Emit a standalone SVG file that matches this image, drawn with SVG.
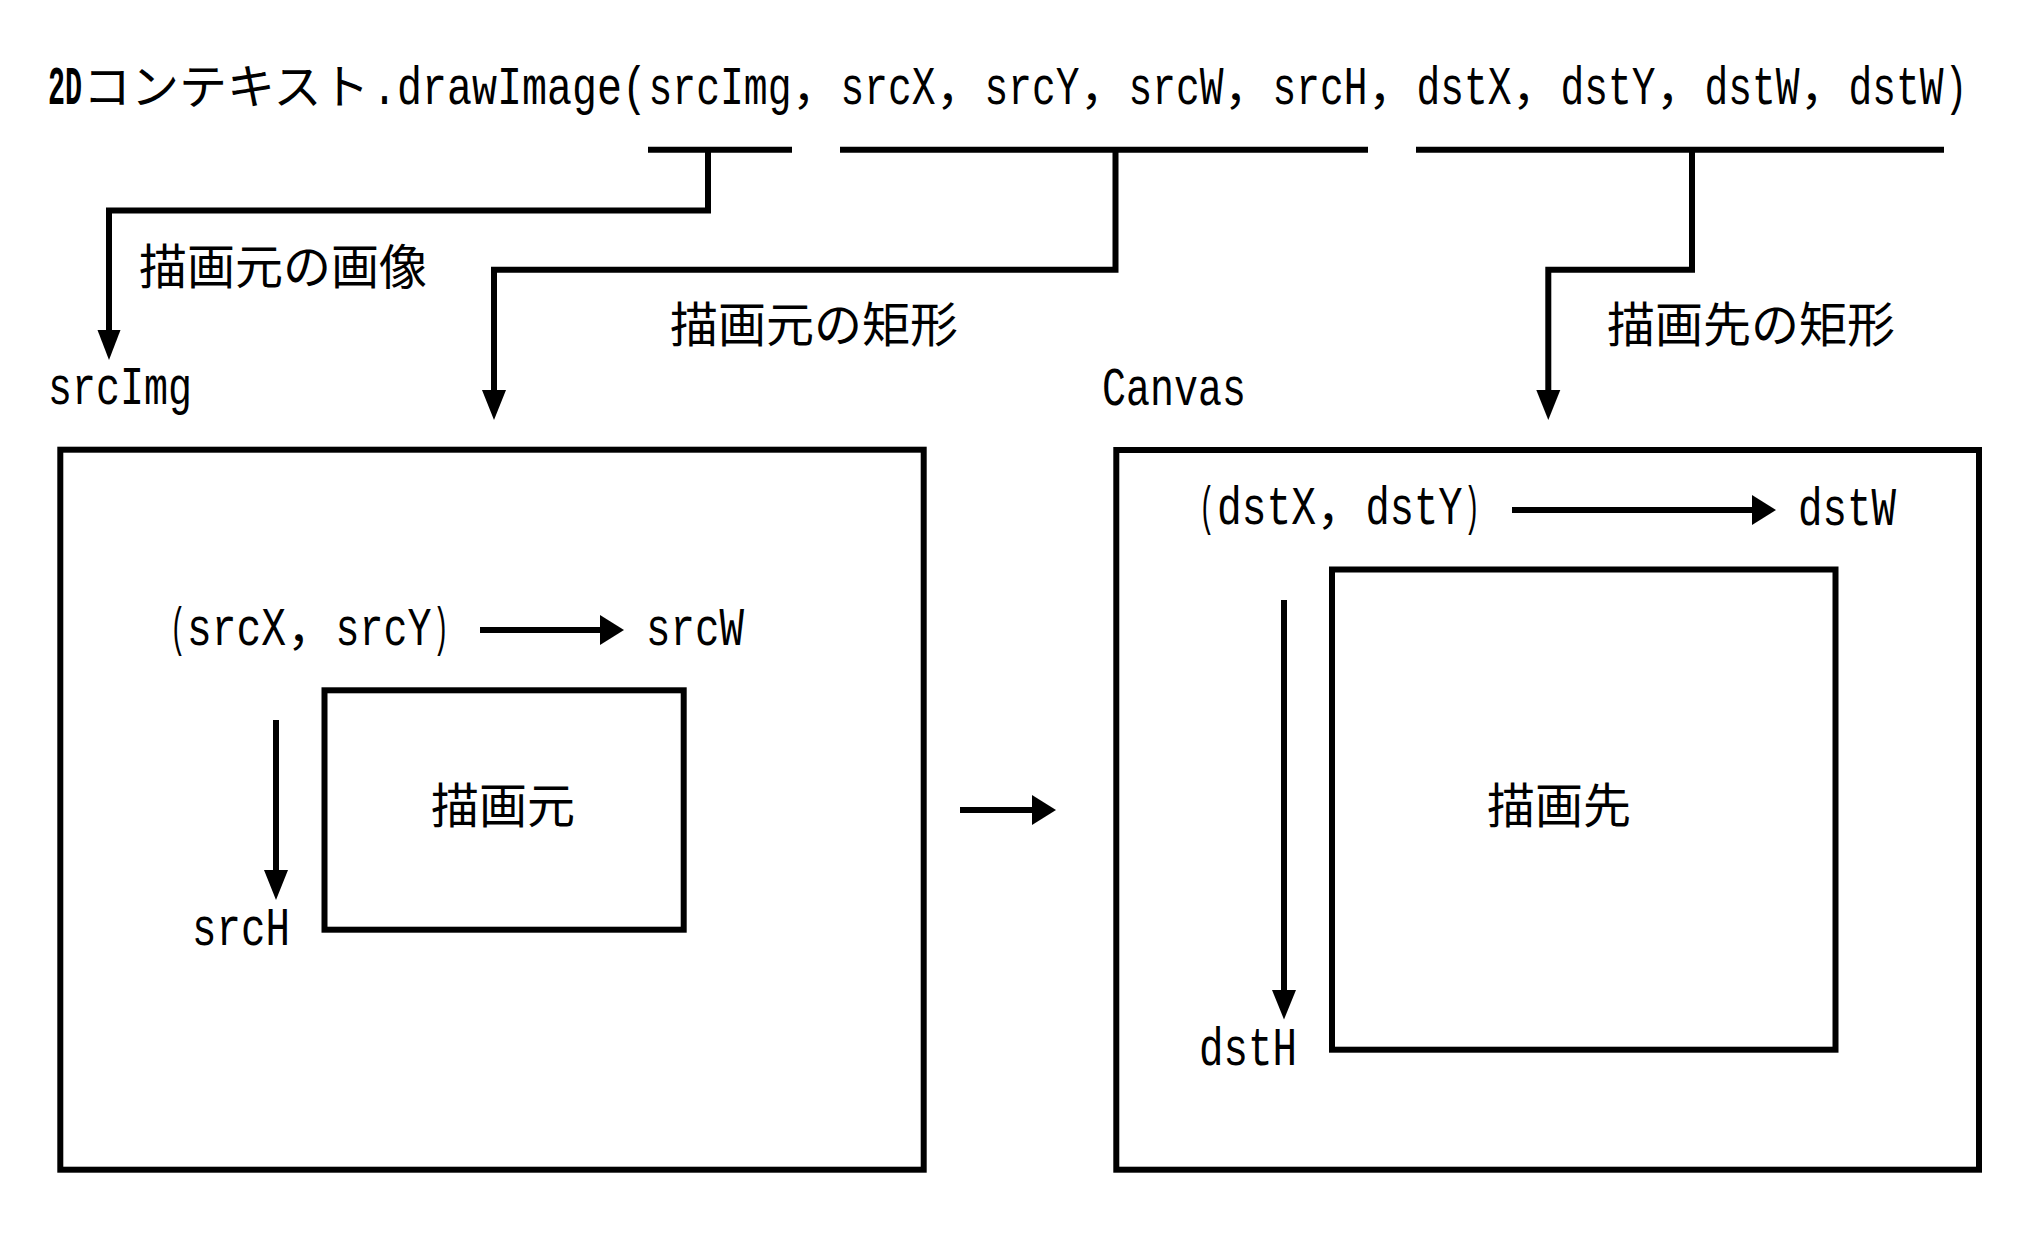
<svg xmlns="http://www.w3.org/2000/svg" width="2040" height="1260" viewBox="0 0 2040 1260">
<style>
.jp { font-family: "Noto Sans CJK JP", "Noto Sans CJK SC", sans-serif; font-size: 48px; fill: #000; }
.lat { font-family: "Liberation Mono", "DejaVu Sans Mono", monospace; font-size: 54px; }
.bd { font-weight: bold; }
.ln { fill: none; stroke: #000; stroke-width: 6; stroke-linejoin: miter; stroke-linecap: butt; }
.hd { fill: #000; stroke: none; }
</style>
<rect x="0" y="0" width="2040" height="1260" fill="#fff"/>

<g id="title">
<text class="jp" y="104"><tspan class="lat bd" x="48" textLength="34" lengthAdjust="spacingAndGlyphs">2D</tspan><tspan x="83">コンテキスト</tspan><tspan class="lat" x="372" textLength="275" lengthAdjust="spacingAndGlyphs">.drawImage(</tspan><tspan class="lat" x="648.5" textLength="143" lengthAdjust="spacingAndGlyphs">srcImg</tspan><tspan x="792">，</tspan><tspan class="lat" x="840.5" textLength="95" lengthAdjust="spacingAndGlyphs">srcX</tspan><tspan x="936">，</tspan><tspan class="lat" x="984.5" textLength="95" lengthAdjust="spacingAndGlyphs">srcY</tspan><tspan x="1080">，</tspan><tspan class="lat" x="1128.5" textLength="95" lengthAdjust="spacingAndGlyphs">srcW</tspan><tspan x="1224">，</tspan><tspan class="lat" x="1272.5" textLength="95" lengthAdjust="spacingAndGlyphs">srcH</tspan><tspan x="1368">，</tspan><tspan class="lat" x="1416.5" textLength="95" lengthAdjust="spacingAndGlyphs">dstX</tspan><tspan x="1512">，</tspan><tspan class="lat" x="1560.5" textLength="95" lengthAdjust="spacingAndGlyphs">dstY</tspan><tspan x="1656">，</tspan><tspan class="lat" x="1704.5" textLength="95" lengthAdjust="spacingAndGlyphs">dstW</tspan><tspan x="1800">，</tspan><tspan class="lat" x="1848.5" textLength="95" lengthAdjust="spacingAndGlyphs">dstW</tspan><tspan class="lat" x="1944.5" textLength="23" lengthAdjust="spacingAndGlyphs">)</tspan></text>
</g>

<g id="connectors">
<line class="ln" x1="648" y1="149.7" x2="792" y2="149.7"/>
<line class="ln" x1="840" y1="149.7" x2="1368" y2="149.7"/>
<line class="ln" x1="1416" y1="149.7" x2="1944" y2="149.7"/>
<polyline class="ln" points="708,149.7 708,210.5 109,210.5 109,331"/>
<polygon class="hd" points="97.5,330 120.5,330 109,360"/>
<polyline class="ln" points="1115.5,149.7 1115.5,269.7 494,269.7 494,391"/>
<polygon class="hd" points="482,390 506,390 494,420"/>
<polyline class="ln" points="1692,149.7 1692,269.7 1548.3,269.7 1548.3,391"/>
<polygon class="hd" points="1536.3,390 1560.3,390 1548.3,420"/>
<line class="ln" x1="480" y1="630" x2="601" y2="630"/>
<polygon class="hd" points="600,615 600,645 624,630"/>
<line class="ln" x1="960" y1="810" x2="1033" y2="810"/>
<polygon class="hd" points="1032,795 1032,825 1056,810"/>
<line class="ln" x1="1512" y1="510" x2="1753" y2="510"/>
<polygon class="hd" points="1752,495 1752,525 1776,510"/>
<line class="ln" x1="276" y1="720" x2="276" y2="871"/>
<polygon class="hd" points="264,870 288,870 276,900"/>
<line class="ln" x1="1284" y1="600" x2="1284" y2="991"/>
<polygon class="hd" points="1272,990 1296,990 1284,1019.5"/>
</g>

<g id="label-srcimg-desc"><text class="jp" x="139" y="283.5">描画元の画像</text></g>
<g id="label-src-rect"><text class="jp" x="670" y="341.5">描画元の矩形</text></g>
<g id="label-dst-rect"><text class="jp" x="1607" y="341.5">描画先の矩形</text></g>
<g id="label-srcimg"><text class="jp lat" x="48" y="404" textLength="144" lengthAdjust="spacingAndGlyphs">srcImg</text></g>
<g id="label-canvas"><text class="jp lat" x="1102" y="405" textLength="144" lengthAdjust="spacingAndGlyphs">Canvas</text></g>

<g id="src-image">
<rect class="ln" x="60.3" y="449.7" width="863.4" height="720"/>
<text class="jp" y="645"><tspan class="lat" x="170" textLength="16" lengthAdjust="spacingAndGlyphs">(</tspan><tspan class="lat" x="187" textLength="99" lengthAdjust="spacingAndGlyphs">srcX</tspan><tspan x="287">，</tspan><tspan class="lat" x="335.5" textLength="96" lengthAdjust="spacingAndGlyphs">srcY</tspan><tspan class="lat" x="433" textLength="16" lengthAdjust="spacingAndGlyphs">)</tspan></text>
<text class="jp lat" x="646" y="645" textLength="98" lengthAdjust="spacingAndGlyphs">srcW</text>
<text class="jp lat" x="192" y="945" textLength="98" lengthAdjust="spacingAndGlyphs">srcH</text>
</g>
<g id="src-rect">
<rect class="ln" x="324.5" y="690.3" width="359.2" height="239.4"/>
<text class="jp" x="431" y="823.3">描画元</text>
</g>

<g id="canvas">
<rect class="ln" x="1116.3" y="450" width="862.7" height="719.7"/>
<text class="jp" y="524"><tspan class="lat" x="1199" textLength="16" lengthAdjust="spacingAndGlyphs">(</tspan><tspan class="lat" x="1217" textLength="99" lengthAdjust="spacingAndGlyphs">dstX</tspan><tspan x="1316.5">，</tspan><tspan class="lat" x="1365.5" textLength="97" lengthAdjust="spacingAndGlyphs">dstY</tspan><tspan class="lat" x="1464" textLength="16" lengthAdjust="spacingAndGlyphs">)</tspan></text>
<text class="jp lat" x="1798" y="525" textLength="98" lengthAdjust="spacingAndGlyphs">dstW</text>
<text class="jp lat" x="1199" y="1065" textLength="98" lengthAdjust="spacingAndGlyphs">dstH</text>
</g>
<g id="dst-rect">
<rect class="ln" x="1332" y="569.5" width="503.5" height="480.2"/>
<text class="jp" x="1487" y="823">描画先</text>
</g>
</svg>
